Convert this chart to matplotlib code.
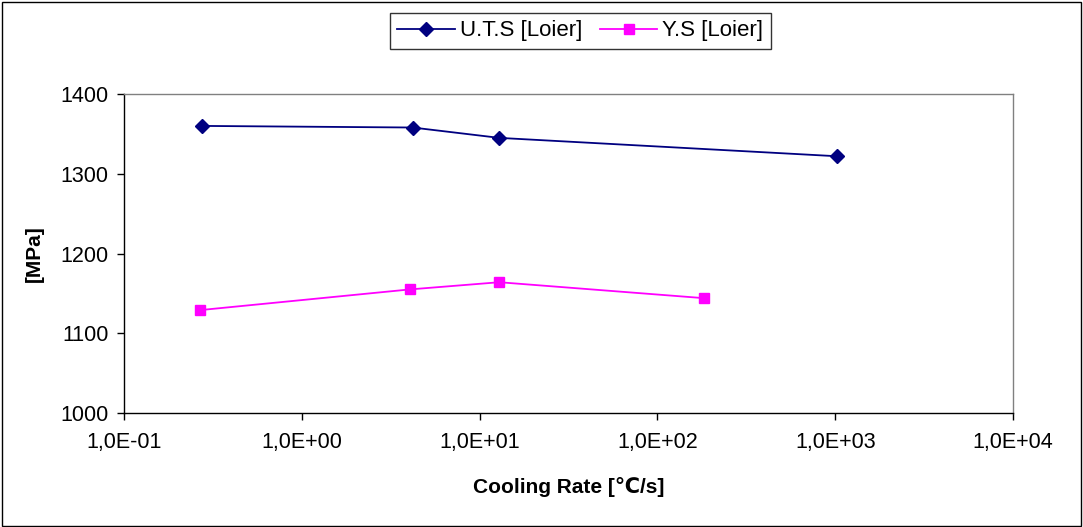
import matplotlib
matplotlib.use("Agg")
import matplotlib.pyplot as plt
from matplotlib.ticker import FixedLocator, FuncFormatter, NullLocator
from matplotlib.patches import Rectangle

plt.rcParams['font.family'] = ['Liberation Sans', 'DejaVu Sans']

uts_x = [0.275, 4.2, 12.9, 1018]
uts_y = [1360, 1358, 1345, 1322]
ys_x = [0.267, 4.06, 12.9, 183]
ys_y = [1129, 1155, 1164, 1144]
x_ticks = [1e-1, 1e0, 1e1, 1e2, 1e3, 1e4]
y_ticks = [1000, 1100, 1200, 1300, 1400]

fig = plt.figure(figsize=(10.83, 5.27), dpi=100)
fig.patches.append(Rectangle((0.002, 0.002), 0.996, 0.995, transform=fig.transFigure,
                             fill=False, edgecolor='black', linewidth=1.0))
ax = fig.add_axes([0.1145, 0.2163, 0.8209, 0.6053])

ax.plot(uts_x, uts_y, color='#000080', marker='D', markersize=7, linewidth=1.3,
        label='U.T.S [Loier]')
ax.plot(ys_x, ys_y, color='#FF00FF', marker='s', markersize=7, linewidth=1.3,
        label='Y.S [Loier]')

ax.set_xscale('log')
ax.set_xlim(1e-1, 1e4)
ax.set_ylim(1000, 1400)
ax.xaxis.set_major_locator(FixedLocator(x_ticks))
ax.xaxis.set_minor_locator(NullLocator())

def fmt(v, pos):
    s = "%.1E" % v
    mant, exp = s.split("E")
    return mant.replace(".", ",") + "E" + exp

ax.xaxis.set_major_formatter(FuncFormatter(fmt))
ax.yaxis.set_major_locator(FixedLocator(y_ticks))

for side in ['top', 'right']:
    ax.spines[side].set_color('#808080')
for side in ['left', 'bottom']:
    ax.spines[side].set_color('black')
for sp in ax.spines.values():
    sp.set_linewidth(1.0)

ax.tick_params(axis='both', direction='out', length=5, width=1, labelsize=15.5, pad=6)
ax.tick_params(axis='x', pad=9)

ax.set_xlabel('Cooling Rate [℃/s]', fontsize=15, fontweight='bold', labelpad=17)
ax.set_ylabel('[MPa]', fontsize=15, fontweight='bold', labelpad=12)

leg = ax.legend(loc='upper center', bbox_to_anchor=(0.513, 1.29), ncol=2, frameon=True,
                fancybox=False, edgecolor='black', fontsize=16, handlelength=2.6,
                columnspacing=0.8, handletextpad=0.2, borderpad=0.35)
leg.get_frame().set_linewidth(1.0)

fig.savefig('out.png', dpi=100)
